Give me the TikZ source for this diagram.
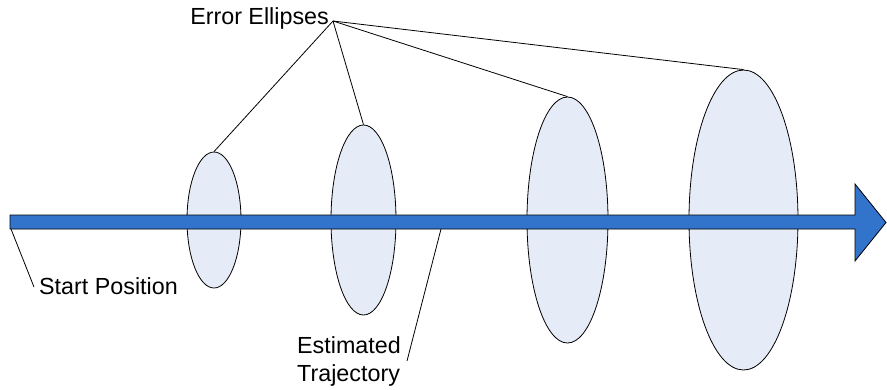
\documentclass[tikz,border=0pt]{standalone}
\usepackage{fontspec}
\setmainfont{Liberation Sans}
\usetikzlibrary{shapes.geometric}

\definecolor{ellfill}{HTML}{E6ECF7}
\definecolor{trackblue}{HTML}{3274CC}

\tikzset{
  errell/.style={ellipse, draw=black, fill=ellfill, line width=0.8pt, inner sep=0pt},
  lbl/.style={font=\fontsize{23.3}{28}\selectfont, inner sep=2pt},
  lead/.style={draw=black, line width=0.8pt}
}

\begin{document}
\begin{tikzpicture}[x=1pt, y=-1pt]

  \useasboundingbox (0,0) rectangle (887,389);

  % Define nodes
  \node[errell, minimum width=54pt,  minimum height=136pt] (e1) at (214,220)   {};
  \node[errell, minimum width=65pt,  minimum height=190pt] (e2) at (363.5,220) {};
  \node[errell, minimum width=81pt,  minimum height=246pt] (e3) at (567.5,220) {};
  \node[errell, minimum width=109pt, minimum height=300pt] (e4) at (743.5,220) {};

  % Trajectory arrow
  \draw[fill=trackblue, line width=0.8pt, line join=miter]
    (10,215) -- (855,215) -- (855,184) -- (886,222.5) -- (855,261)
    -- (855,229) -- (10,229) -- cycle;
  \coordinate (start) at (11,229);
  \coordinate (traj)  at (441,229);

  % Labels
  \node[lbl, anchor=east] (errlbl) at (331,18) {Error Ellipses};
  \coordinate (hub) at (333,21);
  \node[lbl, anchor=west] (startlbl) at (37,286) {Start Position};
  \node[lbl, anchor=east, align=left] (trajlbl) at (403,361) {Estimated\\Trajectory};

  % Connect the nodes
  \foreach \e in {e1,e2,e3,e4}
    \draw[lead] (hub) -- (\e.north);
  \draw[lead] (start) -- ([xshift=-3pt,yshift=-1pt]startlbl.west);
  \draw[lead] (traj) -- ([xshift=4pt]trajlbl.east);

\end{tikzpicture}
\end{document}
